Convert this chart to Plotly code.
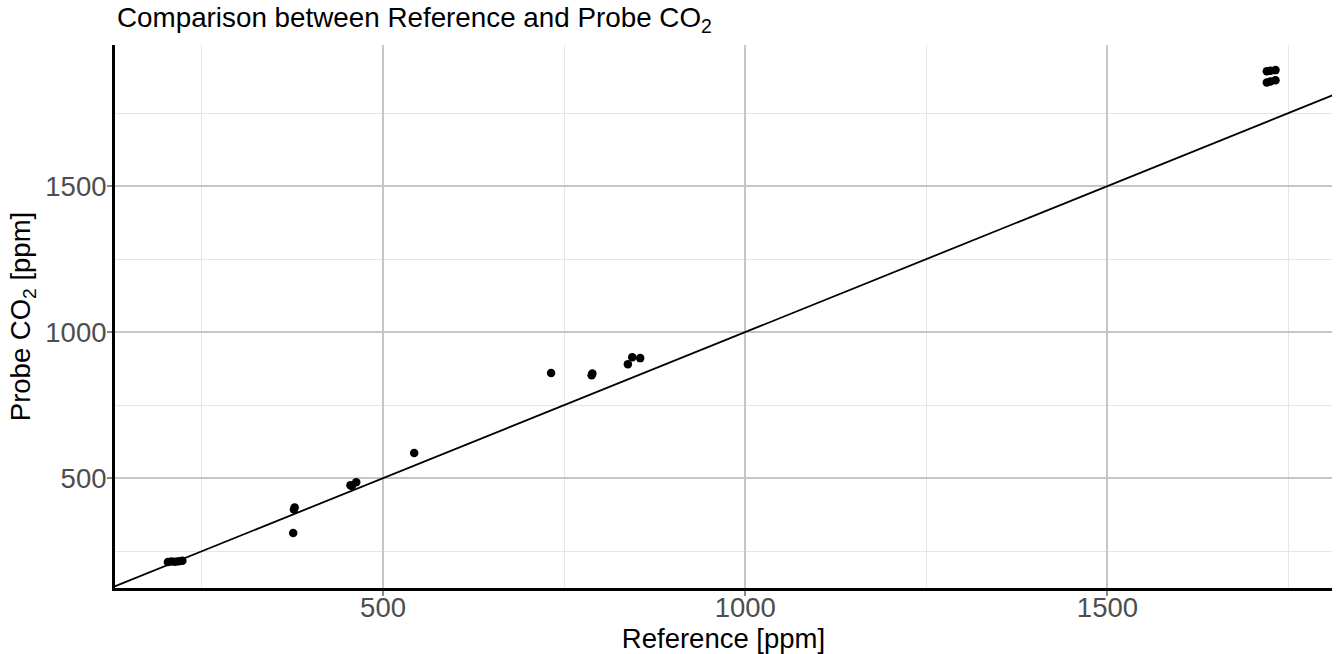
import plotly.graph_objects as go

# Data
reference_ppm = [203, 208, 213, 218, 223, 376, 377, 378, 455, 457, 463, 543,
                 732, 788, 789, 838, 844, 855, 1720, 1725, 1732, 1720, 1725, 1732]
probe_ppm = [213, 215, 214, 216, 217, 312, 393, 400, 476, 473, 486, 586,
             860, 852, 858, 890, 914, 911, 1893, 1895, 1897, 1855, 1858, 1862]

# identity line y = x (geom_abline intercept 0, slope 1)
identity_x = [0, 2000]
identity_y = [0, 2000]

x_range = [130, 1810]
y_range = [124, 1983]
major_ticks = [500, 1000, 1500]
minor_ticks = [250, 750, 1250, 1750]

FONT = "Liberation Sans, Arial, Helvetica, sans-serif"

W, H = 1336, 654

fig = go.Figure()
fig.add_trace(go.Scatter(
    x=identity_x, y=identity_y, mode="lines",
    line=dict(color="black", width=1.8),
    hoverinfo="skip", showlegend=False,
))
fig.add_trace(go.Scatter(
    x=reference_ppm, y=probe_ppm, mode="markers",
    marker=dict(color="black", size=8.5, line=dict(width=0)),
    showlegend=False,
))

axis_common = dict(
    automargin=False,
    showline=True, linecolor="black", linewidth=3,
    showgrid=True, gridcolor="#c6c6c6", gridwidth=1.6,
    zeroline=False,
    ticks="outside", ticklen=5, tickwidth=1.5, tickcolor="#8a8a8a",
    tickfont=dict(family=FONT, size=27.5, color="#4d4d4d"),
    tickvals=major_ticks,
    minor=dict(showgrid=True, gridcolor="#e6e6e6", gridwidth=1,
               tickvals=minor_ticks, ticks=""),
)

fig.update_layout(
    width=W, height=H,
    margin=dict(l=115, r=4, t=45, b=66),
    paper_bgcolor="white", plot_bgcolor="white",
    font=dict(family=FONT, color="black"),
    title=dict(
        text="Comparison between Reference and Probe CO<sub>2</sub>",
        font=dict(family=FONT, size=27.8, color="black"),
        xref="container", x=117 / W, xanchor="left",
        yref="container", y=1 - 17 / H, yanchor="middle",
    ),
    xaxis=dict(
        range=x_range,
        ticklabelstandoff=-12,
        title=dict(text="Reference [ppm]", font=dict(family=FONT, size=27.5, color="black"), standoff=0),
        **axis_common,
    ),
    yaxis=dict(
        range=y_range,
        ticklabelstandoff=-5,
        title=dict(text="Probe CO<sub>2</sub> [ppm]", font=dict(family=FONT, size=27.5, color="black"), standoff=7),
        **axis_common,
    ),
)

# remove the browser's default 8px body margin so the figure sits at the page origin
fig.write_html("out.html", config={"displayModeBar": False},
               post_script="document.body.style.margin='0px';")
